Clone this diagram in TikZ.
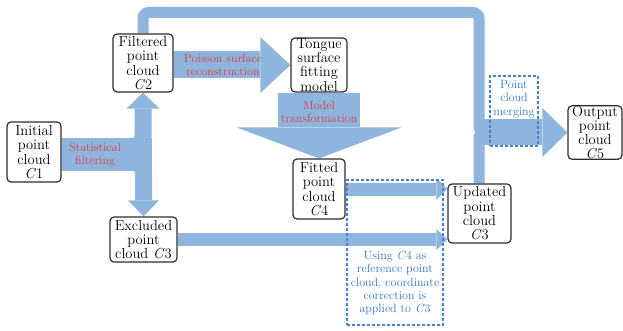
\documentclass[tikz,border=0pt]{standalone}
\usetikzlibrary{arrows.meta,calc}
\definecolor{bandblue}{RGB}{141,181,221}
\definecolor{labelred}{RGB}{232,56,60}
\definecolor{noteblue}{RGB}{52,116,200}
\definecolor{boxline}{RGB}{45,45,45}
\pgfdeclarelayer{bands}
\pgfsetlayers{bands,main}
\tikzset{
  box/.style={draw=boxline, line width=1.2pt, rounded corners=4pt, fill=white,
    align=center, inner sep=0pt, font=\fontsize{14.5}{14.3}\selectfont},
  band/.style={draw=bandblue},
  redlabel/.style={text=labelred, align=center, inner sep=0pt,
    font=\fontsize{12}{12.8}\selectfont},
  note/.style={text=noteblue, align=center, inner sep=0pt,
    font=\fontsize{12}{13.3}\selectfont},
  notebox/.style={draw=noteblue!90, line width=1.3pt, dash pattern=on 3pt off 2pt,
    inner sep=0pt},
}
\begin{document}
\begin{tikzpicture}[x=1pt,y=-1pt]
\useasboundingbox (0,0) rectangle (623,331);

% point-cloud boxes
\node[box, minimum width=54, minimum height=60] (init)   at (34,152)    {Initial\\point\\cloud\\\textit{C}1};
\node[box, minimum width=60, minimum height=58] (c2)     at (143,63)    {Filtered\\point\\cloud\\\textit{C}2};
\node[box, minimum width=56, minimum height=54] (tongue) at (319,65)    {Tongue\\surface\\fitting\\model};
\node[box, minimum width=52, minimum height=60] (fitted) at (319,189)   {Fitted\\point\\cloud\\\textit{C}4};
\node[box, minimum width=67, minimum height=45] (excl)   at (143.5,239.5) {Excluded\\point\\cloud \textit{C}3};
\node[box, minimum width=63, minimum height=59] (upd)    at (479.5,213.5) {Updated\\point\\cloud\\\textit{C}3};
\node[box, minimum width=54, minimum height=51] (out)    at (595,132.5) {Output\\point\\cloud\\\textit{C}5};

\coordinate (merge) at (479,132.5);
\coordinate (toprow) at (0,12.5);

\begin{pgfonlayer}{bands}
  % statistical filtering: split into C2 and C3
  \draw[band, line width=33] ($(init.east)+(0,2.5)$) -- ($(init.east -| c2.south)+(9,2.5)$);
  \draw[band, line width=17, rounded corners=11,
        -{Triangle[width=33pt,length=16pt,line width=0pt]}]
    ($(init.east)+(0,-5)$) -| (c2.south);
  \draw[band, line width=17, rounded corners=11,
        -{Triangle[width=31pt,length=16pt,line width=0pt]}]
    ($(init.east)+(0,10)$) -| (excl.north);
  % Poisson surface reconstruction
  \draw[band, line width=27, -{Triangle[width=56pt,length=30pt,line width=0pt]}]
    (c2.east |- tongue.west) -- (tongue.west);
  % model transformation
  \draw[band, line width=82, -{Triangle[width=165pt,length=31pt,line width=0pt]}]
    (tongue.south) -- (fitted.north);
  % C4 and C3 into the updated cloud
  \draw[band, line width=13, -{Triangle[width=22pt,length=11pt,line width=0pt]}]
    (fitted.east) -- (fitted.east -| upd.west);
  \draw[band, line width=13, -{Triangle[width=21pt,length=11pt,line width=0pt]}]
    (excl.east) -- (excl.east -| upd.west);
  % C2 carried over the top, merged with updated C3
  \draw[band, line width=11, rounded corners=6]
    (c2.north) -- (c2.north |- toprow) -- (merge |- toprow) -- (merge) -- ++(10,0);
  \draw[band, line width=11, rounded corners=6]
    (merge |- upd.north) -- (merge) -- ++(10,0);
  \draw[band, line width=26, -{Triangle[width=49pt,length=25pt,line width=0pt]}]
    (merge) -- (out.west);
\end{pgfonlayer}

% operation labels
\node[redlabel] (lstat)  at (95,155)  {Statistical\\filtering};
\node[redlabel] (lpois)  at (223,65)  {Poisson surface\\reconstruction};
\node[redlabel] (lmodel) at (319,112) {Model\\transformation};

% dashed annotation frames
\node[notebox, minimum width=48, minimum height=70] (mergebox) at (514,111) {};
\node[note] (lmerge) at (514,99) {Point\\cloud\\merging};
\node[notebox, minimum width=96, minimum height=145] (corrbox) at (395,252.5) {};
\node[note] (lcorr) at (395,283) {Using \textit{C}4 as\\reference point\\cloud, coordinate\\correction is\\applied to \textit{C}3};
\end{tikzpicture}
\end{document}
